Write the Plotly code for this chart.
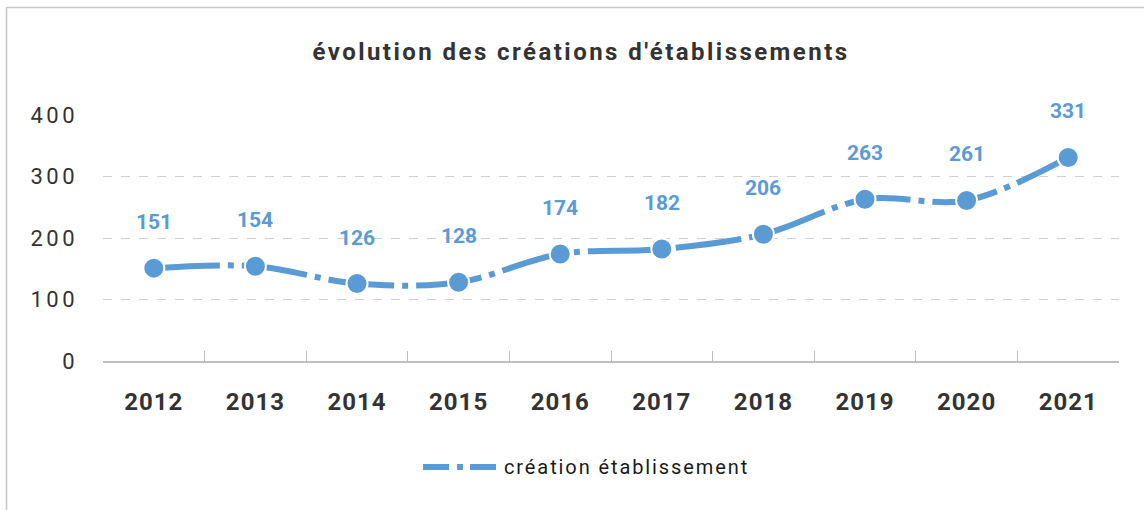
import plotly.graph_objects as go

years = ["2012", "2013", "2014", "2015", "2016", "2017", "2018", "2019", "2020", "2021"]
creations = [151, 154, 126, 128, 174, 182, 206, 263, 261, 331]
y_ticks = [0, 100, 200, 300, 400]
series_name = "création établissement"
title_text = "évolution des créations d'établissements"

BLUE = "#5b9bd5"
FONT = "Roboto"
W, H = 1144, 510
L, R, T, B = 103, 25, 115, 149
PW, PH = W - L - R, H - T - B


def spaced(s, px):
    return f'<span style="letter-spacing:{px}px">{s}</span>'


def px_x(p):
    return (p - L) / PW


def px_y(p):
    return (H - B - p) / PH


fig = go.Figure()
fig.add_trace(go.Scatter(
    x=years, y=creations, mode="lines+markers", name=series_name, showlegend=False,
    line=dict(color=BLUE, width=6, shape="spline", smoothing=1, dash="66px,8px,6px,8px"),
    marker=dict(size=21, color=BLUE, line=dict(color="white", width=2)),
))

for i, v in enumerate(creations):
    fig.add_annotation(x=i, y=v, text=str(v), showarrow=False, yshift=46,
                       font=dict(family=FONT, size=21, color=BLUE, weight="bold"))

# chart border
fig.add_shape(type="rect", xref="paper", yref="paper",
              x0=px_x(6.5), x1=px_x(W + 20), y0=px_y(7.5), y1=px_y(H + 20),
              line=dict(color="#c8c8c8", width=1.5), fillcolor="rgba(0,0,0,0)", layer="below")

# legend (line sample + label)
fig.add_shape(type="line", xref="paper", yref="paper",
              x0=px_x(423), x1=px_x(498), y0=px_y(467), y1=px_y(467),
              line=dict(color=BLUE, width=6, dash="26px,8px,6px,7px"))
fig.add_annotation(xref="paper", yref="paper", x=px_x(502), y=px_y(467),
                   xanchor="left", yanchor="middle", showarrow=False,
                   text=spaced(series_name, 1.9),
                   font=dict(family=FONT, size=20, color="#1a1a1a"))

fig.update_layout(
    width=W, height=H,
    margin=dict(l=L, r=R, t=T, b=B),
    paper_bgcolor="white", plot_bgcolor="white",
    title=dict(text="<b>" + spaced(title_text, 2.45) + "</b>", x=581 / W, xanchor="center", xref="container",
               y=1 - 52 / H, yanchor="middle", yref="container",
               font=dict(family=FONT, size=24, color="#333333")),
    showlegend=False,
    xaxis=dict(type="category", range=[-0.5, len(years) - 0.5], autorange=False,
               showgrid=False, showline=True, linecolor="#bfbfbf", linewidth=1.5,
               ticks="inside", ticklen=10, tickcolor="#bfbfbf", tickson="boundaries",
               ticklabelstandoff=18, tickangle=0,
               tickvals=years, ticktext=[spaced(y, 1) for y in years],
               tickfont=dict(family=FONT, size=24, color="#333333", weight="bold")),
    yaxis=dict(range=[0, 400], autorange=False, tickvals=y_ticks,
               ticktext=[spaced(str(t), 3.5) for t in y_ticks],
               showgrid=True, gridcolor="#d0d0d0",
               griddash="dash", gridwidth=1, zeroline=False, showline=False,
               ticklabelstandoff=24,
               tickfont=dict(family=FONT, size=22, color="#333333")),
)

fig.write_html("out.html", config={"displayModeBar": False},
               post_script="document.body.style.margin='0';document.body.style.overflow='hidden';")
